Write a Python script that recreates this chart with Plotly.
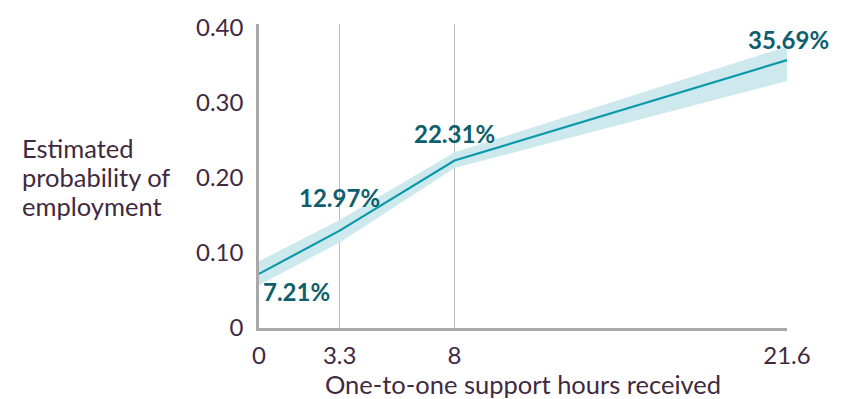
import plotly.graph_objects as go

hours = [0, 3.3, 8, 21.6]
prob = [0.0721, 0.1297, 0.2231, 0.3569]
lower = [0.057, 0.114, 0.213, 0.329]
upper = [0.089, 0.144, 0.234, 0.375]
labels = ["7.21%", "12.97%", "22.31%", "35.69%"]
y_ticks = [0, 0.10, 0.20, 0.30, 0.40]
y_ticktext = ["0", "0.10", "0.20", "0.30", "0.40"]
x_ticks = [0, 3.3, 8, 21.6]
x_ticktext = ["0", "3.3", "8", "21.6"]
y_title_lines = ["Estimated", "probability of", "employment"]

TXT = "#3F2A3F"
LBL = "#0E5E6C"
LINE = "#0B98A8"
BAND = "#CDE9ED"
FONT = "Lato"
FS = 24
FT = 25.5

fig = go.Figure()
fig.add_trace(go.Scatter(x=hours, y=lower, mode="lines", line=dict(width=0),
                         showlegend=False, hoverinfo="skip"))
fig.add_trace(go.Scatter(x=hours, y=upper, mode="lines", line=dict(width=0),
                         fill="tonexty", fillcolor=BAND, showlegend=False, hoverinfo="skip"))
fig.add_trace(go.Scatter(x=hours, y=prob, mode="lines", line=dict(color=LINE, width=2.2),
                         showlegend=False))

# data labels (shifts in pixels relative to the data point)
shifts = [(37, -18), (0, 33), (0, 27), (1, 21)]
for hx, p, t, (dx, dy) in zip(hours, prob, labels, shifts):
    fig.add_annotation(x=hx, y=p, text="<b>" + t + "</b>", showarrow=False,
                       xshift=dx, yshift=dy, font=dict(family=FONT, size=24, color=LBL))

# y-axis title, one line per annotation to control line spacing
for i, line in enumerate(y_title_lines):
    fig.add_annotation(xref="paper", yref="paper", x=-0.453, y=0.497,
                       xanchor="left", yanchor="middle", showarrow=False,
                       yshift=29 * (1 - i), text=line,
                       font=dict(family=FONT, size=FT, color=TXT))

fig.update_layout(
    width=850, height=399,
    margin=dict(l=259, r=63, t=18, b=69),
    paper_bgcolor="white", plot_bgcolor="white",
    font=dict(family=FONT, size=FS, color=TXT),
    xaxis=dict(range=[0, 21.6], tickvals=x_ticks, ticktext=x_ticktext,
               showgrid=True, gridcolor="#BDBDBD", gridwidth=1,
               showline=True, linecolor="#A8A8A8", linewidth=2.5,
               zeroline=False, ticks="", ticklen=0, ticklabelstandoff=4,
               tickfont=dict(family=FONT, size=FS, color=TXT),
               title=dict(text="One-to-one support hours received",
                          font=dict(family=FONT, size=FT, color=TXT), standoff=1)),
    yaxis=dict(range=[0, 0.405], tickvals=y_ticks, ticktext=y_ticktext,
               showgrid=False, showline=True, linecolor="#A8A8A8", linewidth=2.5,
               zeroline=False, ticks="", ticklen=0, ticklabelstandoff=8,
               tickfont=dict(family=FONT, size=FS, color=TXT)),
)

fig.write_html("out.html")
